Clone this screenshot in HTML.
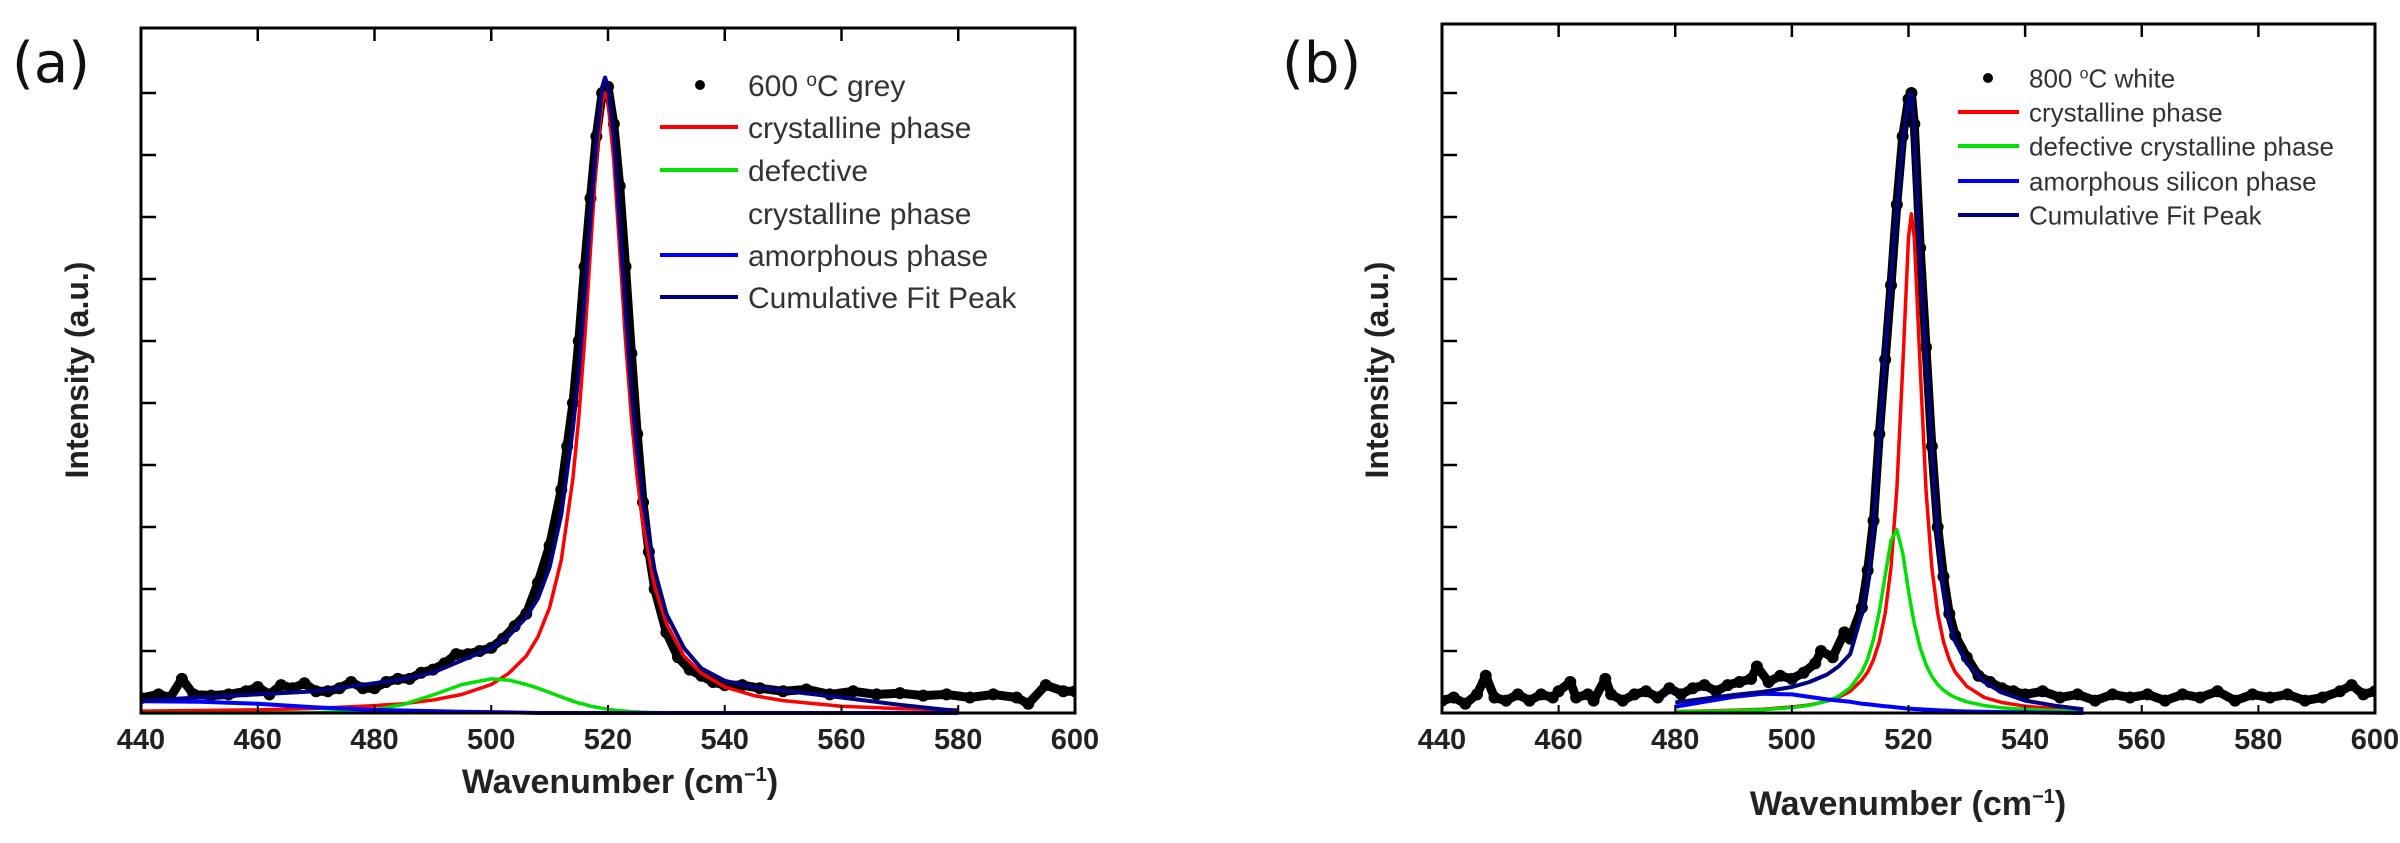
<!DOCTYPE html>
<html><head><meta charset="utf-8"><style>
html,body{margin:0;padding:0;background:#fff;}
svg{display:block;font-family:"Liberation Sans",Arial,sans-serif;}
</style></head><body>
<svg id="fig" width="2400" height="843" viewBox="0 0 2400 843" xmlns="http://www.w3.org/2000/svg">
<rect width="2400" height="843" fill="#fff"/>
</svg>
<script>
// ---------- shared tick data ----------
const xTicks = [440,460,480,500,520,540,560,580,600];
const yTicks = [1,2,3,4,5,6,7,8,9,10];

// ---------- panel (a) data ----------
const aDataX = [440,443,445,447,449,452,455,458,460,462,464,466,468,470,472,474,476,478,480,482,484,486,488,490,492,494,496,498,500,502,504,506,508,510,512,513,514,515,516,517,518,519,520,521,522,523,524,525,526,527,528,530,532,534,536,538,540,543,546,550,554,558,562,566,570,574,578,582,586,590,592,595,598,600];
const aDataY = [0.24,0.3,0.25,0.55,0.3,0.28,0.3,0.35,0.42,0.3,0.45,0.4,0.48,0.35,0.35,0.4,0.5,0.4,0.4,0.5,0.55,0.55,0.65,0.7,0.8,0.95,0.95,1.0,1.05,1.2,1.4,1.6,2.1,2.7,3.6,4.3,5.0,6.0,7.2,8.3,9.3,10.0,10.1,9.5,8.5,7.2,5.8,4.5,3.4,2.6,2.0,1.3,0.9,0.7,0.6,0.5,0.45,0.45,0.4,0.35,0.38,0.3,0.35,0.3,0.32,0.28,0.3,0.25,0.3,0.25,0.15,0.45,0.35,0.35];
const aFitX = [440,450,460,470,480,485,490,495,500,503,506,508,510,512,514,515,516,517,518,519,519.5,520,521,522,523,524,525,526,528,530,533,536,540,545,550,560,570,580];
const aCrystal = [0.03,0.04,0.05,0.075,0.12,0.15,0.21,0.3,0.46,0.64,0.92,1.23,1.7,2.47,3.79,4.77,6.01,7.47,8.91,9.87,10,9.87,8.91,7.47,6.01,4.77,3.79,3.04,2.04,1.44,0.92,0.64,0.42,0.28,0.2,0.11,0.07,0.05];
const aDefect = [0,0,0,0.003,0.05,0.14,0.29,0.46,0.55,0.53,0.46,0.4,0.33,0.26,0.19,0.16,0.14,0.11,0.094,0.076,0.068,0.061,0.048,0.038,0.03,0.022,0.017,0.013,0.007,0.003,0,0,0,0,0,0,0,0];
const aAmorph = [0.19,0.18,0.15,0.09,0.05,0.04,0.03,0.02,0.015,0.01,0.005,0,0,0,0,0,0,0,0,0,0,0,0,0,0,0,0,0,0,0,0,0,0,0,0,0,0,0];
const aCumul = [0.2,0.25,0.3,0.35,0.48,0.55,0.65,0.85,1.05,1.25,1.55,1.85,2.35,3.2,4.6,5.5,6.7,8.0,9.2,10.1,10.25,10.1,9.3,7.9,6.5,5.2,4.2,3.4,2.3,1.6,1.05,0.72,0.52,0.42,0.36,0.25,0.13,0.03];

// ---------- panel (b) data ----------
const bDataX = [440,442,444,446,447.5,449,451,453,455,457,459,460,462,463,465,466,468,469,471,473,475,477,479,481,483,485,487,489,491,493,494,496,498,500,502,504,505,507,509,510,512,513,514,515,516,517,518,519,520,520.5,521,522,523,524,525,526,527,528,530,532,534,536,538,540,543,546,549,552,555,558,561,564,567,570,573,576,579,582,585,588,591,594,596,598,600];
const bDataY = [0.2,0.25,0.15,0.3,0.6,0.25,0.2,0.3,0.2,0.3,0.25,0.35,0.5,0.25,0.3,0.2,0.55,0.3,0.2,0.3,0.35,0.25,0.4,0.3,0.4,0.45,0.35,0.45,0.5,0.55,0.75,0.5,0.6,0.55,0.65,0.8,1.0,0.9,1.3,1.2,1.7,2.3,3.1,4.5,5.7,6.9,8.2,9.3,9.9,10.0,9.5,7.5,5.9,4.3,3.0,2.2,1.6,1.25,0.9,0.6,0.5,0.4,0.35,0.3,0.35,0.25,0.3,0.2,0.3,0.25,0.3,0.2,0.3,0.25,0.35,0.2,0.3,0.25,0.3,0.2,0.25,0.35,0.45,0.3,0.35];
const bFitX = [480,485,490,495,500,503,506,508,510,512,513,514,515,516,517,518,519,520,520.5,521,522,523,524,525,526,527,528,530,533,536,540,545,550];
const bCrystal = [0.025,0.032,0.044,0.062,0.096,0.13,0.19,0.25,0.35,0.53,0.66,0.86,1.15,1.61,2.35,3.6,5.57,7.67,8.05,7.67,5.57,3.6,2.35,1.61,1.15,0.86,0.66,0.43,0.25,0.17,0.11,0.067,0.046];
const bDefect = [0.02,0.026,0.036,0.054,0.087,0.125,0.19,0.27,0.41,0.66,0.87,1.19,1.64,2.22,2.78,2.96,2.58,1.97,1.69,1.44,1.05,0.78,0.59,0.46,0.37,0.3,0.25,0.18,0.12,0.084,0.057,0.038,0.027];
const bAmorph = [0.1,0.18,0.26,0.31,0.3,0.26,0.22,0.2,0.18,0.15,0.14,0.13,0.12,0.11,0.1,0.09,0.08,0.07,0.07,0.065,0.06,0.055,0.05,0.045,0.04,0.035,0.03,0.025,0.02,0.015,0.01,0.005,0];
const bCumul = [0.17,0.23,0.29,0.34,0.42,0.5,0.62,0.75,0.95,1.6,2.1,3.0,4.4,5.8,7.0,8.1,9.2,9.9,10.0,9.4,7.3,5.8,4.3,2.9,2.0,1.5,1.15,0.8,0.5,0.33,0.2,0.12,0.06];

const NS = 'http://www.w3.org/2000/svg';
const svg = document.getElementById('fig');
function mk(tag, attrs, parent){
  const e = document.createElementNS(NS, tag);
  for (const k in attrs) e.setAttribute(k, attrs[k]);
  (parent||svg).appendChild(e);
  return e;
}

function drawPanel(p){
  const g = mk('g', {});
  
  
  const sx = v => p.left + (v - 440) / 160 * (p.right - p.left);
  const sy = v => p.bottom - v * 62;
  const clip = mk('clipPath', {id: p.name + '-clip'}, g);
  mk('rect', {x:p.left, y:p.top, width:p.right-p.left, height:p.bottom-p.top}, clip);

  const dg = mk('g', {'clip-path':'url(#'+p.name+'-clip)'}, g);
  
  
  let d = '';
  p.dx.forEach((x,i)=>{ d += (i?'L':'M') + sx(x).toFixed(1) + ' ' + sy(p.dy[i]).toFixed(1); });
  const dl = mk('path', {d:d, fill:'none', stroke:'#000', 'stroke-width':9, 'stroke-linejoin':'round'}, dg);
  
  
  p.dx.forEach((x,i)=>{
    const c = mk('circle', {cx:sx(x), cy:sy(p.dy[i]), r:6, fill:'#000'}, dg);
    
    
  });

  const series = [
    {v:p.crys, c:'#ff0000', w:3.5, n:'crystalline-fit'},
    {v:p.def, c:'#00e000', w:3.5, n:'defective-fit'},
    {v:p.am, c:'#0000ff', w:4, n:'amorphous-fit'},
    {v:p.cum, c:'#000080', w:4, n:'cumulative-fit'}
  ];
  series.forEach(s=>{
    let pd = '';
    p.fx.forEach((x,i)=>{ pd += (i?'L':'M') + sx(x).toFixed(1) + ' ' + sy(s.v[i]).toFixed(1); });
    const l = mk('path', {d:pd, fill:'none', stroke:s.c, 'stroke-width':s.w, 'stroke-linejoin':'round'}, g);
    
    
  });

  const fr = mk('rect', {x:p.left, y:p.top, width:p.right-p.left, height:p.bottom-p.top, fill:'none', stroke:'#000', 'stroke-width':3}, g);
  
  

  xTicks.forEach(t=>{
    const x = sx(t);
    mk('line', {x1:x, x2:x, y1:p.top, y2:p.top+13, stroke:'#000', 'stroke-width':2.5}, g);
    mk('line', {x1:x, x2:x, y1:p.bottom, y2:p.bottom-8, stroke:'#000', 'stroke-width':2}, g);
    const tx = mk('text', {x:x, y:749, 'text-anchor':'middle', 'font-size':29, 'font-weight':'bold', fill:'#222'}, g);
    tx.textContent = t;
    
    
  });
  yTicks.forEach(t=>{
    const y = sy(t);
    mk('line', {x1:p.left, x2:p.left+15, y1:y, y2:y, stroke:'#000', 'stroke-width':2.5}, g);
  });

  const xt = mk('text', {x:p.xtX, y:p.xtY, 'text-anchor':'middle', 'font-size':34, 'font-weight':'bold', fill:'#222'}, g);
  xt.innerHTML = 'Wavenumber (cm<tspan dy="-12" font-size="20">−1</tspan><tspan dy="12">)</tspan>';
  
  
  const yt = mk('text', {x:0, y:0, transform:'translate('+(p.ytX)+',370) rotate(-90)', 'text-anchor':'middle', 'font-size':32, 'font-weight':'bold', fill:'#222'}, g);
  yt.textContent = 'Intensity (a.u.)';
  
  

  const pl = mk('text', {x:p.letX, y:82, 'font-size':56, fill:'#111', 'font-family':'"DejaVu Sans","Liberation Sans",sans-serif'}, g);
  pl.textContent = p.letter;
  
  

  const lg = mk('g', {}, g);
  
  
  p.leg.forEach(e=>{
    if (e.dot) {
      const c = mk('circle', {cx:p.dotX, cy:e.y, r:5, fill:'#000'}, lg);
      
      
    } else if (e.c) {
      const l = mk('line', {x1:p.lx1, x2:p.lx2, y1:e.y, y2:e.y, stroke:e.c, 'stroke-width':4}, lg);
      
      
    }
    const t = mk('text', {x:p.tx, y:e.y + p.fs*0.36, 'font-size':p.fs, fill:'#333'}, lg);
    t.innerHTML = e.t;
    
    
  });
}

drawPanel({name:'a', letter:'(a)', letX:12, left:141, right:1075, top:28, bottom:713,
  dx:aDataX, dy:aDataY, fx:aFitX, crys:aCrystal, def:aDefect, am:aAmorph, cum:aCumul,
  xtX:620, xtY:793, ytX:88, dotX:700, lx1:660, lx2:738, tx:748, fs:30,
  leg:[{dot:true,y:85,t:'600 <tspan dy="-10" font-size="19">o</tspan><tspan dy="10">C grey</tspan>'},
       {c:'#ff0000',y:127,t:'crystalline phase'},
       {c:'#00e000',y:170,t:'defective'},
       {y:213,t:'crystalline phase'},
       {c:'#0000ff',y:255,t:'amorphous phase'},
       {c:'#000080',y:297,t:'Cumulative Fit Peak'}]});

drawPanel({name:'b', letter:'(b)', letX:1282, left:1442, right:2375, top:24, bottom:713,
  dx:bDataX, dy:bDataY, fx:bFitX, crys:bCrystal, def:bDefect, am:bAmorph, cum:bCumul,
  xtX:1908, xtY:815, ytX:1388, dotX:1988, lx1:1958, lx2:2019, tx:2029, fs:26,
  leg:[{dot:true,y:78,t:'800 <tspan dy="-9" font-size="16">o</tspan><tspan dy="9">C white</tspan>'},
       {c:'#ff0000',y:112,t:'crystalline phase'},
       {c:'#00e000',y:146,t:'defective crystalline phase'},
       {c:'#0000ff',y:181,t:'amorphous silicon phase'},
       {c:'#000080',y:215,t:'Cumulative Fit Peak'}]});
</script>
</body></html>
